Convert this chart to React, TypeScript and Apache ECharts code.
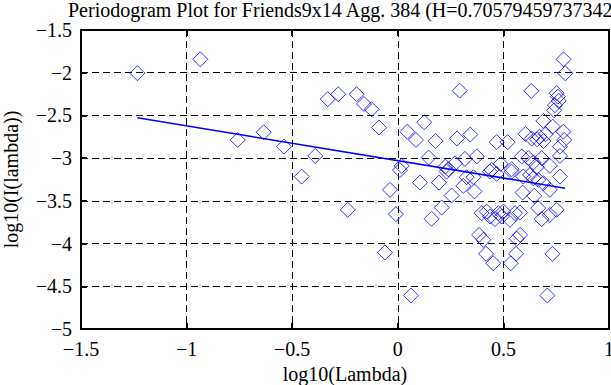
import React, { useEffect, useRef } from "react";
import * as echarts from "echarts";

const titleText = "Periodogram Plot for Friends9x14 Agg. 384 (H=0.70579459737342";
const xAxisName = "log10(Lambda)";
const yAxisName = "log10(I(lambda))";

const xTicks = [-1.5, -1, -0.5, 0, 0.5, 1];
const yTicks = [-5, -4.5, -4, -3.5, -3, -2.5, -2, -1.5];

const pointX = [
  -1.233, -0.935, -0.332, -0.282, -0.195, -0.16, -0.124, -0.089, -0.758, -0.635, -0.539, -0.391, -0.455,
  0.293, 0.632, 0.785, 0.793, 0.752, 0.758, 0.762, 0.744, 0.74,
  0.045, 0.125, 0.086, 0.179, 0.28, 0.343, 0.468, 0.52, 0.604, 0.634, 0.689, 0.733, 0.784, 0.788, 0.768, 0.768,
  0.67, 0.69, 0.66, 0.7,
  0.146, 0.018, 0.225, 0.24, 0.271, 0.318, 0.374, 0.444, 0.487, 0.539,
  0.587, 0.618, 0.642, 0.658, 0.681, 0.72,
  0.01, 0.105, 0.195, -0.037, 0.255, 0.31, 0.358, 0.363, 0.436, 0.468, 0.231, 0.326, 0.539,
  0.594, 0.626, 0.642, 0.665, 0.689, 0.72, 0.768, 0.591, 0.646,
  -0.237, -0.009, 0.16, 0.208,
  0.397, 0.421, 0.437, 0.46, 0.476, 0.492, 0.5, 0.531, 0.555, 0.579,
  0.665, 0.681, 0.72, 0.752,
  0.385, 0.405, 0.579, 0.563, -0.061, 0.418, 0.452, 0.56, 0.535, 0.732, 0.062, 0.708,
];
const pointY = [
  -2.006, -1.843, -2.31, -2.252, -2.252, -2.366, -2.428, -2.642, -2.787, -2.697, -2.865, -2.974, -3.216,
  -2.21, -2.213, -1.843, -2.007, -2.24, -2.28, -2.33, -2.38, -2.44,
  -2.69, -2.58, -2.787, -2.8, -2.77, -2.724, -2.813, -2.813, -2.716, -2.771, -2.564, -2.631, -2.69, -2.787, -2.865, -2.974,
  -2.75, -2.8, -2.78, -2.72,
  -2.993, -3.09, -3.1, -3.13, -3.06, -3.009, -2.98, -3.137, -3.067, -3.13,
  -2.98, -3.0, -3.05, -3.106, -3.0, -3.09,
  -3.14, -3.286, -3.286, -3.371, -3.438, -3.325, -3.223, -3.39, -3.157, -3.184, -3.157, -3.223, -3.157,
  -3.216, -3.196, -3.235, -3.254, -3.293, -3.371, -3.216, -3.403, -3.441,
  -3.605, -3.656, -3.71, -3.578,
  -3.644, -3.625, -3.684, -3.714, -3.644, -3.684, -3.625, -3.722, -3.644, -3.637,
  -3.585, -3.714, -3.664, -3.605,
  -3.898, -3.956, -3.898, -3.944, -4.104, -4.12, -4.23, -4.12, -4.23, -4.12, -4.608, -4.608,
];

const fitX = [-1.233, 0.792];
const fitY = [-2.526, -3.352];

const FONT = "'Liberation Serif', 'Times New Roman', serif";
const FS = 20;
const fmt = (v: number) => String(v).replace("-", "\u2212");

export default function App() {
  const ref = useRef<HTMLDivElement>(null);
  useEffect(() => {
    document.documentElement.style.margin = "0";
    document.documentElement.style.overflow = "hidden";
    document.body.style.margin = "0";
    document.body.style.overflow = "hidden";
    if (!ref.current) return;
    const chart = echarts.init(ref.current, undefined, { renderer: "svg" });
    const axisLine = { show: true, onZero: false, lineStyle: { color: "#000", width: 2 } };
    const axisTick = { show: true, inside: true, length: 6, lineStyle: { color: "#000", width: 2 } };
    chart.setOption({
      animation: false,
      backgroundColor: "#fff",
      title: {
        text: titleText,
        left: 68,
        top: 0,
        padding: 0,
        textStyle: { fontFamily: FONT, fontSize: FS, fontWeight: "normal", color: "#000" },
      },
      grid: { left: 81, right: 2, top: 30, bottom: 56, containLabel: false, outerBoundsMode: "none" },
      xAxis: [
        {
          type: "value",
          min: xTicks[0],
          max: xTicks[xTicks.length - 1],
          interval: 0.5,
          position: "bottom",
          name: xAxisName,
          nameLocation: "middle",
          nameGap: 34,
          nameTextStyle: { fontFamily: FONT, fontSize: FS, color: "#000" },
          axisLine,
          axisTick,
          axisLabel: { fontFamily: FONT, fontSize: FS, color: "#000", margin: 10, formatter: fmt },
          splitLine: { show: true, lineStyle: { color: "#000", width: 1, type: [7, 4] } },
        },
        {
          type: "value",
          min: xTicks[0],
          max: xTicks[xTicks.length - 1],
          interval: 0.5,
          position: "top",
          axisLine,
          axisTick,
          axisLabel: { show: false },
          splitLine: { show: false },
        },
      ],
      yAxis: [
        {
          type: "value",
          min: yTicks[0],
          max: yTicks[yTicks.length - 1],
          interval: 0.5,
          position: "left",
          name: yAxisName,
          nameLocation: "middle",
          nameGap: 60,
          nameTextStyle: { fontFamily: FONT, fontSize: FS, color: "#000" },
          axisLine,
          axisTick,
          axisLabel: { fontFamily: FONT, fontSize: FS, color: "#000", margin: 9, formatter: fmt },
          splitLine: { show: true, lineStyle: { color: "#000", width: 1, type: [7, 4] } },
        },
        {
          type: "value",
          min: yTicks[0],
          max: yTicks[yTicks.length - 1],
          interval: 0.5,
          position: "right",
          axisLine,
          axisTick,
          axisLabel: { show: false },
          splitLine: { show: false },
        },
      ],
      series: [
        {
          type: "scatter",
          data: pointX.map((x, i) => [x, pointY[i]]),
          symbol: "diamond",
          symbolSize: 15,
          itemStyle: { color: "rgba(0,0,0,0)", borderColor: "#0000ff", borderWidth: 1 },
          z: 3,
        },
        {
          type: "line",
          data: fitX.map((x, i) => [x, fitY[i]]),
          showSymbol: false,
          symbol: "none",
          lineStyle: { color: "#0000ff", width: 1.5 },
          z: 4,
        },
      ],
    });
    return () => chart.dispose();
  }, []);
  return <div ref={ref} style={{ width: 611, height: 385 }} />;
}
